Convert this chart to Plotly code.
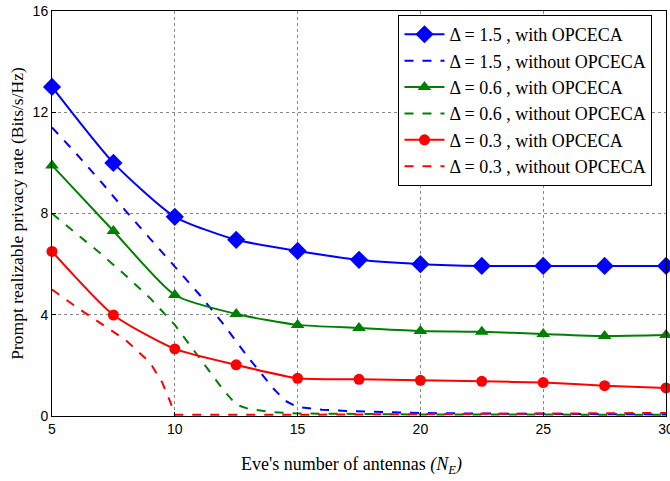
import plotly.graph_objects as go

x_with = [5, 7.5, 10, 12.5, 15, 17.5, 20, 22.5, 25, 27.5, 30]
blue_with = [13.0, 10.0, 7.87, 6.96, 6.52, 6.17, 6.0, 5.93, 5.93, 5.93, 5.93]
green_with = [9.9, 7.31, 4.78, 4.03, 3.6, 3.48, 3.36, 3.33, 3.24, 3.16, 3.2]
red_with = [6.5, 3.99, 2.65, 2.02, 1.49, 1.45, 1.41, 1.37, 1.32, 1.2, 1.11]

x_blue_wo = [5, 6, 7, 8, 9, 10, 11, 12, 13, 14, 14.5, 15, 16, 17, 18, 20, 22, 25, 30]
blue_wo = [11.4, 10.35, 9.25, 8.1, 7.0, 5.9, 4.8, 3.6, 2.3, 1.1, 0.6, 0.35, 0.25, 0.2, 0.17, 0.12, 0.1, 0.08, 0.06]
x_green_wo = [5, 6, 7, 8, 9, 10, 11, 12, 12.5, 13, 14, 15, 20, 25, 30]
green_wo = [8.0, 7.2, 6.4, 5.55, 4.65, 3.6, 2.3, 1.0, 0.45, 0.28, 0.15, 0.1, 0.06, 0.05, 0.05]
x_red_wo = [5, 6, 7, 8, 9, 9.5, 9.8, 10, 15, 20, 25, 30]
red_wo = [5.0, 4.3, 3.65, 3.0, 2.1, 1.3, 0.6, 0.05, 0.05, 0.07, 0.1, 0.12]

labels = ["Δ = 1.5 , with OPCECA", "Δ = 1.5 , without OPCECA",
          "Δ = 0.6 , with OPCECA", "Δ = 0.6 , without OPCECA",
          "Δ = 0.3 , with OPCECA", "Δ = 0.3 , without OPCECA"]
x_title = "Eve's number of antennas <i>(N<sub>E</sub>)</i>"
y_title = "Prompt realizable privacy rate (Bits/s/Hz)"

BLUE, GREEN, RED = "#0000ff", "#008000", "#ff0000"

fig = go.Figure()
fig.add_trace(go.Scatter(x=x_with, y=blue_with, name=labels[0], mode="lines+markers",
                         line=dict(color=BLUE, width=2, shape="spline", smoothing=0.6),
                         marker=dict(symbol="diamond", size=14, color=BLUE), cliponaxis=False))
fig.add_trace(go.Scatter(x=x_blue_wo, y=blue_wo, name=labels[1], mode="lines",
                         line=dict(color=BLUE, width=2, dash="dash")))
fig.add_trace(go.Scatter(x=x_with, y=green_with, name=labels[2], mode="lines+markers",
                         line=dict(color=GREEN, width=2, shape="spline", smoothing=0.6),
                         marker=dict(symbol="triangle-up", size=12, color=GREEN), cliponaxis=False))
fig.add_trace(go.Scatter(x=x_green_wo, y=green_wo, name=labels[3], mode="lines",
                         line=dict(color=GREEN, width=2, dash="dash")))
fig.add_trace(go.Scatter(x=x_with, y=red_with, name=labels[4], mode="lines+markers",
                         line=dict(color=RED, width=2, shape="spline", smoothing=0.6),
                         marker=dict(symbol="circle", size=11, color=RED), cliponaxis=False))
fig.add_trace(go.Scatter(x=x_red_wo, y=red_wo, name=labels[5], mode="lines",
                         line=dict(color=RED, width=2, dash="dash")))

serif = "Liberation Serif, Times New Roman, serif"
sans = "Liberation Sans, Arial, sans-serif"

fig.update_layout(
    width=670, height=481,
    margin=dict(l=52, r=4, t=11, b=65),
    paper_bgcolor="white", plot_bgcolor="white",
    showlegend=True,
    legend=dict(x=0.978, y=0.99, xanchor="right", yanchor="top",
                bgcolor="white", bordercolor="black", borderwidth=1,
                font=dict(family=serif, size=18, color="black"),
                tracegroupgap=0, itemwidth=40),
    xaxis=dict(range=[5, 30], tickvals=[5, 10, 15, 20, 25, 30], automargin=False,
               ticklabeloverflow="allow",
               showgrid=True, gridcolor="#888888", griddash="dot", gridwidth=1,
               zeroline=False, showline=True, linecolor="black", linewidth=1, mirror=True,
               ticks="inside", ticklen=4, tickcolor="black",
               tickfont=dict(family=sans, size=14, color="black")),
    yaxis=dict(range=[0, 16], tickvals=[0, 4, 8, 12, 16], automargin="left",
               ticklabeloverflow="allow",
               showgrid=True, gridcolor="#888888", griddash="dot", gridwidth=1,
               zeroline=False, showline=True, linecolor="black", linewidth=1, mirror=True,
               ticks="inside", ticklen=4, tickcolor="black",
               tickfont=dict(family=sans, size=14, color="black"),
               title=dict(text=y_title,
                          font=dict(family=serif, size=17.5, color="black"), standoff=4)),
    annotations=[dict(text=x_title, xref="paper", yref="paper", x=0.487, y=-0.121,
                      xanchor="center", yanchor="middle", showarrow=False,
                      font=dict(family=serif, size=18, color="black"))],
)

fig.write_html("out.html", config={"displayModeBar": False},
               post_script="document.body.style.margin='0';")
